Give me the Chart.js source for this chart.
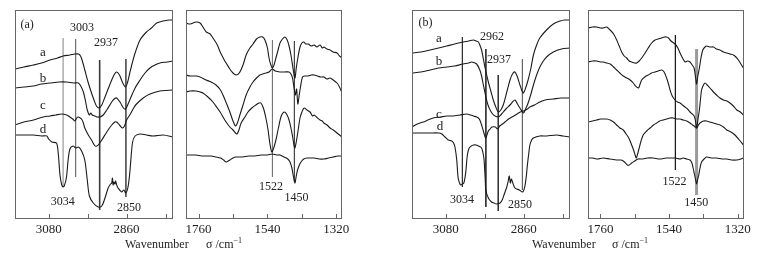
<!DOCTYPE html>
<html>
<head>
<meta charset="utf-8">
<script src="https://cdn.jsdelivr.net/npm/chart.js@4.4.0/dist/chart.umd.min.js"></script>
<style>
  body { margin: 0; background: #fff; }
  #wrap { position: relative; width: 760px; height: 258px; overflow: hidden; }
  canvas { position: absolute; top: 0; }
  .title { position: absolute; top: 237px; font: 12px 'Liberation Serif', serif; color: #222; white-space: nowrap; }
  .title sup { font-size: 8px; vertical-align: 5px; line-height: 0; }
</style>
</head>
<body>
<div id="wrap">
  <canvas id="pa1"></canvas>
  <canvas id="pa2"></canvas>
  <canvas id="pb1"></canvas>
  <canvas id="pb2"></canvas>
  <div class="title" style="left:125px">Wavenumber</div>
  <div class="title" style="left:206px">σ /cm<sup>−1</sup></div>
  <div class="title" style="left:532px">Wavenumber</div>
  <div class="title" style="left:612px">σ /cm<sup>−1</sup></div>
</div>
<script>
// Tick values (cm-1) and their labels
const chTicks = [3080, 2970, 2860, 2750];
const chTickLabels = ["3080", "", "2860", ""];
const fpTicks = [1760, 1650, 1540, 1430, 1320];
const fpTickLabels = ["1760", "", "1540", "", "1320"];

// Panel (a), C-H region: [wavenumber, signal]
const a1a = [[3175,149],[3150,151],[3123,153],[3100,155],[3076,158],[3055,160],[3039,162],[3020,163],[3006,164],[2996,164],[2990,162],[2984,156],[2978,148],[2968,135],[2959,125],[2950,116],[2945,112],[2938,110],[2930,113],[2921,121],[2910,131],[2902,138],[2894,144],[2888,146],[2880,143],[2872,136],[2863,131],[2857,136],[2851,145],[2844,155],[2836,165],[2822,178],[2804,186],[2790,190],[2775,195],[2757,197],[2740,198],[2729,198]];
const a1b = [[3175,130],[3150,131],[3123,132],[3100,134],[3076,135],[3050,136],[3029,136],[3010,135],[2996,135],[2988,131],[2982,126],[2976,117],[2971,108],[2965,103],[2961,105],[2957,103],[2949,102],[2942,101],[2935,101],[2926,103],[2916,108],[2902,116],[2895,119],[2888,120],[2877,115],[2869,110],[2863,109],[2857,113],[2851,118],[2836,130],[2822,138],[2808,145],[2794,150],[2780,153],[2766,155],[2745,156],[2729,157]];
const a1c = [[3175,93],[3150,96],[3123,98],[3095,101],[3076,102],[3060,103],[3043,104],[3029,103],[3020,101],[3012,99],[3006,97],[3001,100],[2996,101],[2991,100],[2987,99],[2982,95],[2978,90],[2968,83],[2959,78],[2949,72],[2944,72],[2940,73],[2930,78],[2916,86],[2902,93],[2893,96],[2888,96],[2880,93],[2872,90],[2866,92],[2860,98],[2851,103],[2840,110],[2832,114],[2813,120],[2794,124],[2766,127],[2729,128]];
const a1d = [[3175,83],[3150,83],[3123,83],[3100,82],[3085,82],[3080,79],[3071,76],[3058,75],[3053,65],[3048,43],[3043,33],[3039,31],[3036,32],[3030,40],[3025,58],[3020,69],[3011,72],[3004,70],[2996,71],[2987,67],[2978,58],[2971,38],[2965,22],[2954,15],[2940,11],[2930,12],[2921,20],[2912,30],[2905,34],[2902,35],[2900,40],[2898,33],[2896,36],[2893,34],[2891,37],[2888,33],[2884,30],[2874,26],[2868,28],[2862,25],[2856,31],[2851,45],[2848,58],[2843,76],[2836,82],[2822,84],[2804,83],[2785,82],[2757,83],[2729,81]];

// Panel (a), fingerprint region
const a2a = [[1800,195],[1787,194],[1768,196],[1755,195],[1746,191],[1735,186],[1723,184],[1714,180],[1700,173],[1691,166],[1676,157],[1672,155],[1660,149],[1650,145],[1640,143],[1630,145],[1618,153],[1608,163],[1596,170],[1586,174],[1575,179],[1564,181],[1555,181],[1548,178],[1540,170],[1535,160],[1529,153],[1524,150],[1519,153],[1513,160],[1506,168],[1500,175],[1492,179],[1484,181],[1477,178],[1471,172],[1465,163],[1460,153],[1455,143],[1452,140],[1448,150],[1443,160],[1436,171],[1430,175],[1424,176],[1418,174],[1410,174],[1400,172],[1391,173],[1382,171],[1372,173],[1365,170],[1360,171],[1350,169],[1340,168],[1330,166],[1318,165],[1310,162],[1302,160]];
const a2b = [[1800,143],[1787,142],[1768,142],[1755,141],[1736,138],[1720,136],[1704,133],[1690,128],[1682,123],[1670,114],[1660,106],[1650,97],[1642,92],[1636,95],[1628,103],[1618,113],[1608,123],[1596,131],[1586,136],[1575,140],[1564,143],[1555,144],[1545,145],[1535,146],[1525,149],[1515,147],[1500,146],[1485,146],[1471,146],[1465,144],[1460,140],[1455,130],[1451,123],[1447,129],[1443,114],[1439,122],[1434,132],[1428,141],[1420,142],[1410,142],[1400,143],[1391,143],[1380,142],[1370,141],[1360,141],[1350,139],[1340,140],[1330,138],[1318,135],[1310,131],[1302,125]];
const a2c = [[1800,126],[1787,127],[1768,127],[1755,126],[1746,125],[1730,121],[1714,116],[1700,110],[1691,106],[1680,100],[1672,96],[1660,91],[1650,88],[1642,85],[1637,84],[1630,89],[1624,95],[1612,101],[1602,106],[1590,110],[1577,113],[1567,115],[1561,115],[1553,110],[1545,100],[1538,88],[1532,74],[1526,66],[1520,70],[1513,78],[1505,90],[1496,102],[1487,106],[1479,104],[1471,98],[1465,90],[1460,82],[1453,70],[1448,76],[1442,88],[1436,100],[1430,106],[1423,110],[1414,108],[1404,106],[1396,102],[1391,103],[1380,100],[1372,98],[1365,97],[1360,95],[1350,93],[1340,90],[1330,88],[1318,85],[1302,81]];
const a2d = [[1800,63],[1787,63],[1768,63],[1750,62],[1736,62],[1720,62],[1704,61],[1690,60],[1680,58],[1672,56],[1665,57],[1660,58],[1650,60],[1640,61],[1620,61],[1600,62],[1580,62],[1560,63],[1540,63],[1525,64],[1510,63],[1500,63],[1487,61],[1475,59],[1468,56],[1462,50],[1458,43],[1454,37],[1452,35],[1448,42],[1444,48],[1438,53],[1433,56],[1424,59],[1414,60],[1400,60],[1391,60],[1375,59],[1360,59],[1345,60],[1330,61],[1315,62],[1302,62]];

// Panel (b), C-H region
const b1a = [[3175,165],[3150,166],[3124,168],[3100,170],[3077,172],[3055,174],[3031,176],[3015,177],[3002,178],[2994,177],[2988,176],[2983,172],[2979,168],[2974,159],[2969,150],[2960,136],[2953,127],[2946,118],[2939,111],[2932,106],[2925,108],[2918,113],[2908,126],[2899,138],[2892,144],[2885,146],[2878,141],[2871,133],[2865,127],[2861,125],[2855,130],[2848,138],[2840,150],[2833,163],[2825,172],[2815,180],[2796,188],[2777,194],[2758,197],[2745,198],[2730,198]];
const b1b = [[3175,145],[3150,146],[3124,148],[3100,150],[3077,151],[3055,152],[3031,154],[3015,155],[3007,156],[2993,154],[2984,148],[2979,142],[2974,133],[2965,118],[2960,112],[2955,108],[2948,104],[2941,102],[2932,101],[2925,103],[2918,106],[2908,110],[2899,113],[2892,116],[2885,118],[2878,114],[2871,110],[2861,105],[2855,109],[2848,115],[2840,124],[2833,133],[2825,142],[2815,151],[2805,157],[2796,161],[2777,166],[2754,169],[2730,170]];
const b1c = [[3175,91],[3160,94],[3143,96],[3130,98],[3115,100],[3095,101],[3077,102],[3060,102],[3040,103],[3021,104],[3010,103],[3002,102],[2993,101],[2988,100],[2984,98],[2979,93],[2974,87],[2970,82],[2967,80],[2963,84],[2960,87],[2955,89],[2950,91],[2940,91],[2934,89],[2928,92],[2920,94],[2913,96],[2903,99],[2893,101],[2879,104],[2870,106],[2861,107],[2850,109],[2843,111],[2830,113],[2815,116],[2800,118],[2777,119],[2755,120],[2730,120]];
const b1d = [[3175,85],[3150,85],[3124,85],[3100,85],[3091,84],[3082,81],[3073,78],[3063,77],[3058,75],[3054,71],[3049,58],[3045,40],[3040,34],[3037,33],[3033,34],[3029,35],[3025,42],[3023,48],[3019,63],[3014,70],[3008,72],[3002,73],[2995,73],[2988,72],[2979,70],[2975,65],[2972,58],[2969,40],[2967,28],[2960,20],[2951,16],[2944,15],[2937,14],[2927,15],[2921,18],[2916,23],[2908,31],[2904,37],[2901,42],[2898,35],[2895,39],[2892,36],[2885,30],[2873,28],[2863,26],[2857,32],[2853,42],[2850,53],[2846,65],[2843,73],[2838,78],[2833,80],[2815,82],[2796,82],[2768,83],[2750,82],[2730,81]];

// Panel (b), fingerprint region
const b2a = [[1800,190],[1785,191],[1772,191],[1760,190],[1751,190],[1740,191],[1729,188],[1718,184],[1708,178],[1700,172],[1692,166],[1684,162],[1676,160],[1668,157],[1660,156],[1650,155],[1644,155],[1636,157],[1628,160],[1617,165],[1607,170],[1596,175],[1585,178],[1575,179],[1564,180],[1555,181],[1548,181],[1542,180],[1537,178],[1530,176],[1521,174],[1512,170],[1505,165],[1497,160],[1489,156],[1481,157],[1473,156],[1466,153],[1460,150],[1455,140],[1452,134],[1448,142],[1443,150],[1438,160],[1432,168],[1425,171],[1420,172],[1410,171],[1398,171],[1388,169],[1377,168],[1366,166],[1355,165],[1345,164],[1334,163],[1326,161],[1318,158],[1310,154],[1302,150]];
const b2b = [[1800,156],[1785,157],[1772,157],[1760,156],[1751,156],[1740,155],[1729,154],[1718,151],[1708,148],[1698,145],[1687,142],[1676,140],[1665,138],[1655,135],[1648,132],[1644,131],[1638,130],[1633,134],[1628,138],[1618,141],[1607,143],[1596,145],[1585,146],[1575,147],[1564,148],[1556,146],[1548,140],[1542,134],[1537,128],[1530,122],[1521,118],[1513,116],[1505,115],[1497,113],[1489,111],[1481,109],[1473,106],[1466,104],[1460,102],[1456,98],[1452,90],[1447,100],[1443,108],[1439,120],[1436,128],[1430,133],[1425,135],[1418,133],[1409,130],[1398,126],[1388,123],[1377,120],[1366,118],[1355,117],[1345,115],[1334,112],[1323,108],[1312,106],[1302,103]];
const b2c = [[1800,96],[1785,97],[1772,98],[1760,99],[1751,99],[1740,99],[1729,98],[1718,96],[1708,93],[1698,90],[1687,88],[1678,84],[1671,81],[1665,77],[1660,73],[1654,68],[1649,63],[1645,60],[1641,64],[1636,70],[1630,77],[1623,83],[1612,87],[1601,90],[1590,93],[1580,95],[1570,97],[1559,98],[1548,99],[1537,100],[1527,100],[1516,99],[1505,99],[1495,98],[1484,97],[1473,95],[1465,93],[1460,92],[1452,90],[1446,93],[1441,95],[1430,97],[1420,97],[1409,96],[1398,95],[1388,94],[1377,93],[1366,91],[1355,88],[1342,86],[1329,83],[1315,78],[1302,73]];
const b2d = [[1800,60],[1785,60],[1770,59],[1751,60],[1730,59],[1708,58],[1695,58],[1687,57],[1680,55],[1674,53],[1668,53],[1660,55],[1650,57],[1640,59],[1625,59],[1610,60],[1591,60],[1570,59],[1550,60],[1537,60],[1520,60],[1505,59],[1495,60],[1484,59],[1473,58],[1467,55],[1463,50],[1459,44],[1455,38],[1452,34],[1449,38],[1445,43],[1441,50],[1436,56],[1428,59],[1420,61],[1405,60],[1388,60],[1370,59],[1355,59],[1340,58],[1323,58],[1310,59],[1302,60]];

// Marker lines: position and vertical extent in signal units
const a1Lines = [3039, 3004, 2936, 2862];
const a1LineTop = [180, 179, 158, 159];
const a1LineBottom = [31, 41, 8, 21];
const a2Lines = [1524, 1454];
const a2LineTop = [178, 177];
const a2LineBottom = [41, 36];
const b1Lines = [3033, 2967, 2932, 2864];
const b1LineTop = [181, 169, 143, 159];
const b1LineBottom = [31, 11, 7, 28];
const b2Lines = [1520, 1452];
const b2LineTop = [183, 169];
const b2LineBottom = [48, 23];

// Text notes on each panel
const a1Notes = ["(a)", "a", "b", "c", "d", "3003", "2937", "3034", "2850"];
const a1NoteX = [3141, 3096, 3096, 3096, 3096, 2986, 2918, 3040, 2853];
const a1NoteY = [193, 165, 139, 112, 88, 190, 175, 16, 10];
const a2Notes = ["1522", "1450"];
const a2NoteX = [1529, 1447];
const a2NoteY = [31, 20];
const b1Notes = ["(b)", "a", "b", "c", "d", "2962", "2937", "3034", "2850"];
const b1NoteX = [3137, 3099, 3099, 3099, 3096, 2950, 2930, 3034, 2871];
const b1NoteY = [195, 179, 156, 103, 91, 181, 158, 18, 13];
const b2Notes = ["1522", "1450"];
const b2NoteX = [1523, 1453];
const b2NoteY = [36, 15];

Chart.defaults.font.family = "'Liberation Serif', serif";

function toXY(points) {
  return points.map(p => ({ x: p[0], y: p[1] }));
}

// frame, inward ticks and notes
function framePlugin(p) {
  return {
    id: "frame",
    afterDraw(chart) {
      const { ctx, chartArea: a, scales: { x, y } } = chart;
      ctx.save();
      ctx.strokeStyle = "#666";
      ctx.lineWidth = 1;
      ctx.strokeRect(a.left + 0.5, a.top + 0.5, a.right - a.left - 1, a.bottom - a.top);
      p.ticks.forEach(v => {
        const px = Math.round(x.getPixelForValue(v)) + 0.5;
        ctx.beginPath();
        ctx.moveTo(px, a.bottom);
        ctx.lineTo(px, a.bottom - 4);
        ctx.stroke();
      });
      ctx.fillStyle = "#222";
      ctx.textAlign = "center";
      ctx.textBaseline = "middle";
      p.notes.forEach((t, i) => {
        ctx.font = t.length > 2 ? "12px 'Liberation Serif'" : "13px 'Liberation Serif'";
        ctx.fillText(t, x.getPixelForValue(p.noteX[i]), y.getPixelForValue(p.noteY[i]));
      });
      ctx.restore();
    }
  };
}

function makePanel(id, boxLeft, boxWidth, p) {
  const canvas = document.getElementById(id);
  canvas.width = boxWidth + 40;
  canvas.height = 258;
  canvas.style.left = (boxLeft - 20) + "px";

  const datasets = p.curves.map(c => ({
    data: toXY(c), borderColor: "#1a1a1a", borderWidth: 1.1,
    pointRadius: 0, tension: 0.3, fill: false
  }));
  p.lines.forEach((wn, i) => {
    datasets.push({
      data: [{ x: wn, y: p.lineTop[i] }, { x: wn, y: p.lineBottom[i] }],
      borderColor: p.lineColor[i], borderWidth: p.lineWidth[i], pointRadius: 0
    });
  });

  new Chart(canvas, {
    type: "line",
    data: { datasets },
    options: {
      responsive: false,
      animation: false,
      layout: { padding: { left: 20, right: 20, top: 10, bottom: 20 } },
      plugins: { legend: { display: false }, tooltip: { enabled: false } },
      scales: {
        x: {
          type: "linear", reverse: true, min: p.min, max: p.max,
          afterBuildTicks: s => { s.ticks = p.ticks.map(v => ({ value: v })); },
          afterFit: s => { s.height = 20; },
          grid: { display: false, drawTicks: false },
          border: { display: false },
          ticks: {
            autoSkip: false, maxRotation: 0, padding: 4, color: "#222",
            font: { size: 13 },
            callback: v => p.tickLabels[p.ticks.indexOf(v)]
          }
        },
        y: { display: false, min: 0, max: 208 }
      }
    },
    plugins: [framePlugin(p)]
  });
}

makePanel("pa1", 15, 158, {
  min: 2729, max: 3175, ticks: chTicks, tickLabels: chTickLabels,
  curves: [a1a, a1b, a1c, a1d],
  lines: a1Lines, lineTop: a1LineTop, lineBottom: a1LineBottom,
  lineColor: ["#b4b4b4", "#707070", "#3a3a3a", "#555"], lineWidth: [1, 1, 1.6, 1],
  notes: a1Notes, noteX: a1NoteX, noteY: a1NoteY
});
makePanel("pa2", 186, 156, {
  min: 1302, max: 1800, ticks: fpTicks, tickLabels: fpTickLabels,
  curves: [a2a, a2b, a2c, a2d],
  lines: a2Lines, lineTop: a2LineTop, lineBottom: a2LineBottom,
  lineColor: ["#777", "#444"], lineWidth: [1, 1.2],
  notes: a2Notes, noteX: a2NoteX, noteY: a2NoteY
});
makePanel("pb1", 412, 158, {
  min: 2730, max: 3175, ticks: chTicks, tickLabels: chTickLabels,
  curves: [b1a, b1b, b1c, b1d],
  lines: b1Lines, lineTop: b1LineTop, lineBottom: b1LineBottom,
  lineColor: ["#333", "#333", "#333", "#666"], lineWidth: [1, 1, 1, 1],
  notes: b1Notes, noteX: b1NoteX, noteY: b1NoteY
});
makePanel("pb2", 588, 156, {
  min: 1300, max: 1800, ticks: fpTicks, tickLabels: fpTickLabels,
  curves: [b2a, b2b, b2c, b2d],
  lines: b2Lines, lineTop: b2LineTop, lineBottom: b2LineBottom,
  lineColor: ["#111", "#9a9a9a"], lineWidth: [1.2, 3],
  notes: b2Notes, noteX: b2NoteX, noteY: b2NoteY
});
</script>
</body>
</html>
